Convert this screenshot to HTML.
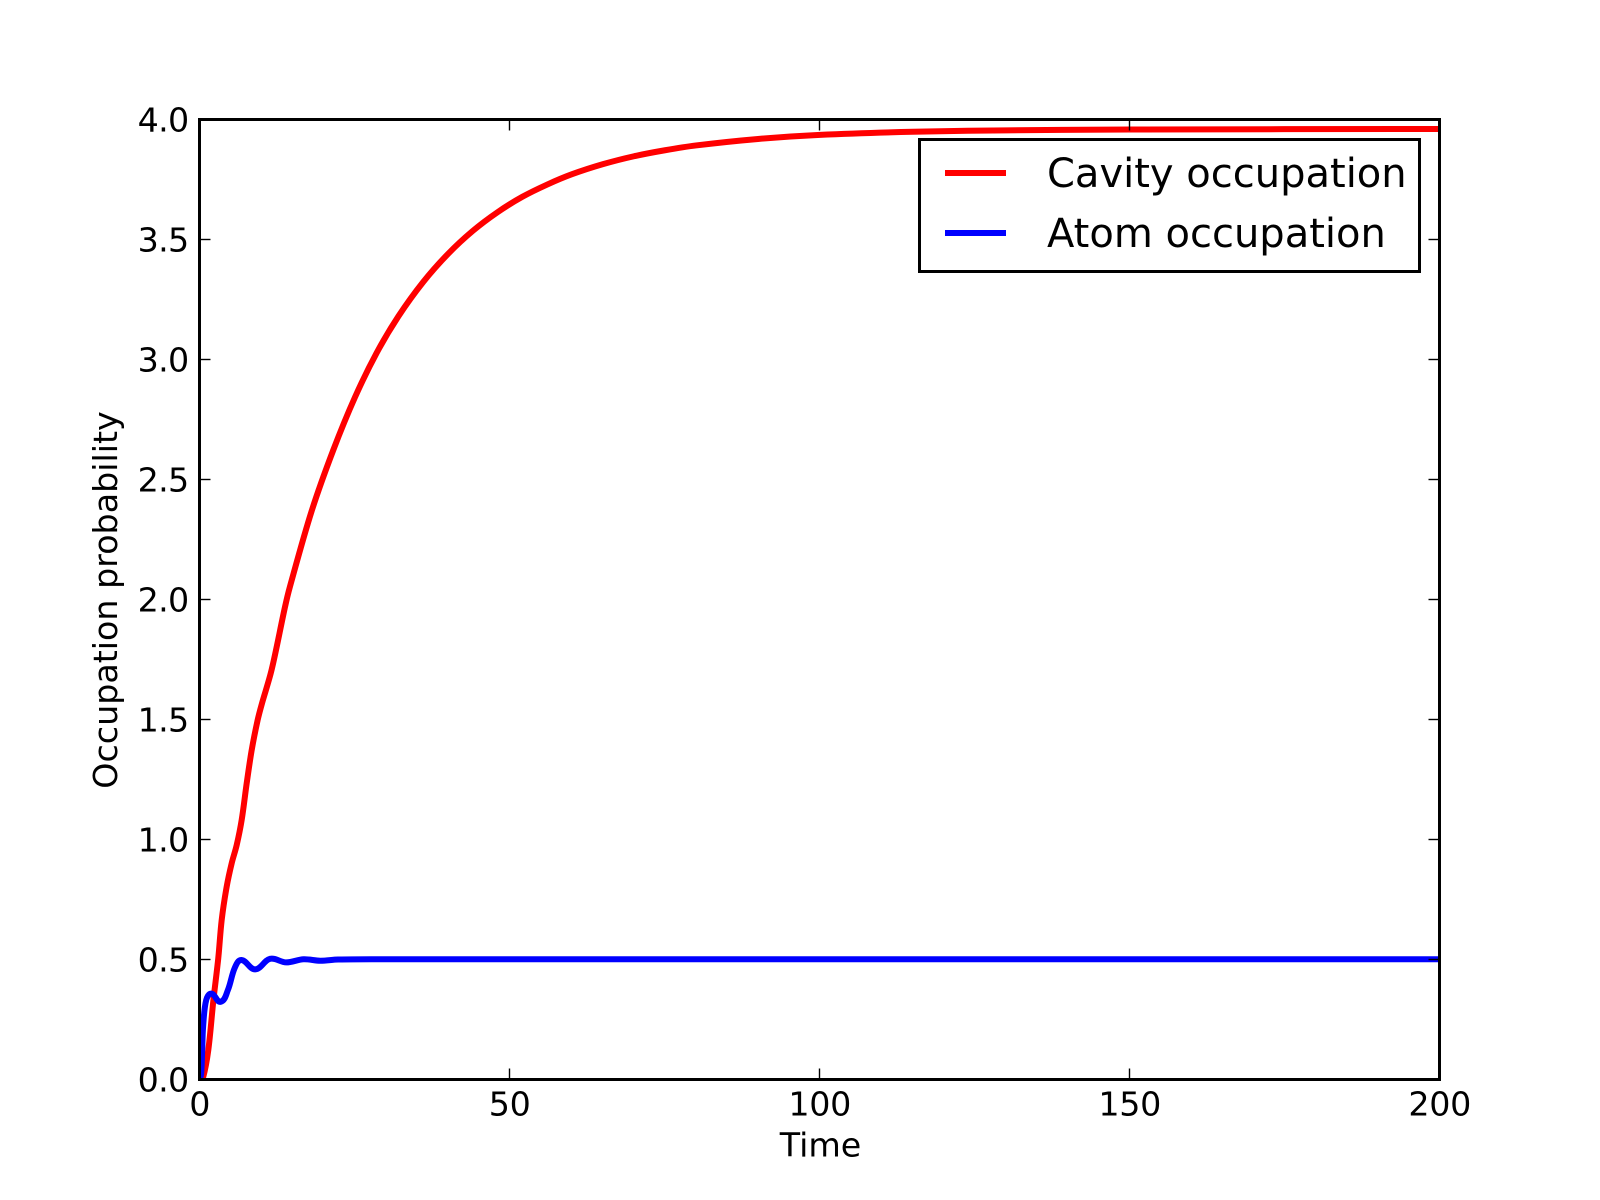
<!DOCTYPE html>
<html lang="en">
<head>
<meta charset="utf-8">
<title>Occupation probability chart</title>
<style>
html,body{margin:0;padding:0;background:#fff;}
svg{display:block;font-family:"DejaVu Sans","Liberation Sans",sans-serif;}
</style>
</head>
<body>
<svg id="chart" width="1600" height="1200" viewBox="0 0 1600 1200" xmlns="http://www.w3.org/2000/svg">
  <defs><clipPath id="plot-clip"><rect x="199.5" y="119.5" width="1240" height="960"/></clipPath></defs>
  <rect x="0" y="0" width="1600" height="1200" fill="#fff"/>
  <g id="series" clip-path="url(#plot-clip)"></g>
  <g id="ticks"></g>
  <rect x="199.5" y="119.5" width="1240" height="960" fill="none" stroke="#000" stroke-width="3"/>
  <text x="820.5" y="1156.5" font-size="33.3" text-anchor="middle" fill="#000">Time</text>
  <text transform="translate(117 600) rotate(-90)" font-size="33.3" text-anchor="middle" fill="#000">Occupation probability</text>
  <g>
    <rect x="919.5" y="139.5" width="500" height="132" fill="#fff" stroke="#000" stroke-width="3"/>
    <line x1="945" y1="173" x2="1006" y2="173" stroke="#f00" stroke-width="6"/>
    <text x="1047" y="187" font-size="40" fill="#000">Cavity occupation</text>
    <line x1="945" y1="233" x2="1006" y2="233" stroke="#00f" stroke-width="6"/>
    <text x="1047" y="247" font-size="40" fill="#000">Atom occupation</text>
  </g>
</svg>
<script>
const xTickValues = [0, 50, 100, 150, 200];
const xTickLabels = ["0", "50", "100", "150", "200"];
const yTickValues = [0, 0.5, 1, 1.5, 2, 2.5, 3, 3.5, 4];
const yTickLabels = ["0.0", "0.5", "1.0", "1.5", "2.0", "2.5", "3.0", "3.5", "4.0"];

const cavityTime = [0, 0.53, 1.34, 2.15, 2.95, 3.5, 4.3, 5.11, 5.92, 6.72, 7.53, 8.34, 9.3, 9.95, 11.56, 13.7, 14.5, 18, 21.5, 25, 28.5, 32, 36, 40, 44, 48, 52, 56, 60, 65, 70, 75, 80, 90, 100, 115, 130, 150, 200];
const cavityValues = [0, 0.014, 0.125, 0.33, 0.508, 0.667, 0.805, 0.903, 0.979, 1.083, 1.236, 1.375, 1.5, 1.565, 1.71, 1.97, 2.055, 2.37, 2.625, 2.845, 3.03, 3.182, 3.325, 3.442, 3.538, 3.616, 3.68, 3.731, 3.774, 3.816, 3.849, 3.874, 3.894, 3.921, 3.938, 3.951, 3.957, 3.9605, 3.9625];
const atomTime = [0, 0.2, 0.35, 0.5, 1, 1.83, 3.33, 4.5, 5.6, 6.67, 8.9, 11.3, 13.9, 16.7, 19.4, 22.3, 30, 200];
const atomValues = [0, 0.03, 0.12, 0.222, 0.333, 0.36, 0.326, 0.375, 0.467, 0.5, 0.461, 0.505, 0.49, 0.503, 0.497, 0.502, 0.503, 0.503];

const NS = 'http://www.w3.org/2000/svg';
const xScale = function (t) { return 200 + (t - 0) / (200 - 0) * 1240; };
const yScale = function (v) { return 1080 - (v - 0) / (4 - 0) * 960; };

function make(tag, parent, attrs) {
  const el = document.createElementNS(NS, tag);
  Object.keys(attrs).forEach(function (k) { el.setAttribute(k, attrs[k]); });
  parent.appendChild(el);
  return el;
}

function smoothPath(ts, vs) {
  const p = ts.map(function (t, i) { return [xScale(t), yScale(vs[i])]; });
  let d = 'M' + p[0][0].toFixed(2) + ' ' + p[0][1].toFixed(2);
  for (let i = 0; i < p.length - 1; i++) {
    const a = p[Math.max(i - 1, 0)], b = p[i], c = p[i + 1], e = p[Math.min(i + 2, p.length - 1)];
    const len = Math.hypot(c[0] - b[0], c[1] - b[1]);
    const l1 = Math.hypot(c[0] - a[0], c[1] - a[1]) || 1;
    const l2 = Math.hypot(e[0] - b[0], e[1] - b[1]) || 1;
    const k = len / 3;
    const c1 = [b[0] + (c[0] - a[0]) / l1 * k, b[1] + (c[1] - a[1]) / l1 * k];
    const c2 = [c[0] - (e[0] - b[0]) / l2 * k, c[1] - (e[1] - b[1]) / l2 * k];
    d += 'C' + c1[0].toFixed(2) + ' ' + c1[1].toFixed(2) + ' ' + c2[0].toFixed(2) + ' ' + c2[1].toFixed(2) + ' ' + c[0].toFixed(2) + ' ' + c[1].toFixed(2);
  }
  return d;
}

const seriesGroup = document.getElementById('series');
const cavityLine = make('path', seriesGroup, { d: smoothPath(cavityTime, cavityValues), fill: 'none', stroke: '#f00', 'stroke-width': 6 });


const atomLine = make('path', seriesGroup, { d: smoothPath(atomTime, atomValues), fill: 'none', stroke: '#00f', 'stroke-width': 6 });



const tickGroup = document.getElementById('ticks');
xTickValues.forEach(function (val, i) {
  const x = xScale(val);
  const bottom = make('line', tickGroup, { x1: x - 0.5, y1: 1079.5, x2: x - 0.5, y2: 1068.5, stroke: '#000', 'stroke-width': 1.4 });
  
  
  const top = make('line', tickGroup, { x1: x - 0.5, y1: 119.5, x2: x - 0.5, y2: 130.5, stroke: '#000', 'stroke-width': 1.4 });
  
  
  const label = make('text', tickGroup, { x: x - 0.3, y: 1115.5, 'font-size': 33.3, 'text-anchor': 'middle', 'letter-spacing': -0.3, fill: '#000' });
  label.textContent = xTickLabels[i];
  
  
});
yTickValues.forEach(function (val, i) {
  const y = yScale(val);
  const left = make('line', tickGroup, { x1: 199.5, y1: y - 0.5, x2: 210.5, y2: y - 0.5, stroke: '#000', 'stroke-width': 1.4 });
  
  
  const right = make('line', tickGroup, { x1: 1439.5, y1: y - 0.5, x2: 1428.5, y2: y - 0.5, stroke: '#000', 'stroke-width': 1.4 });
  
  
  const label = make('text', tickGroup, { x: 188.5, y: y + 11.5, 'font-size': 33.3, 'text-anchor': 'end', 'letter-spacing': -0.7, fill: '#000' });
  label.textContent = yTickLabels[i];
  
  
});
</script>
</body>
</html>
